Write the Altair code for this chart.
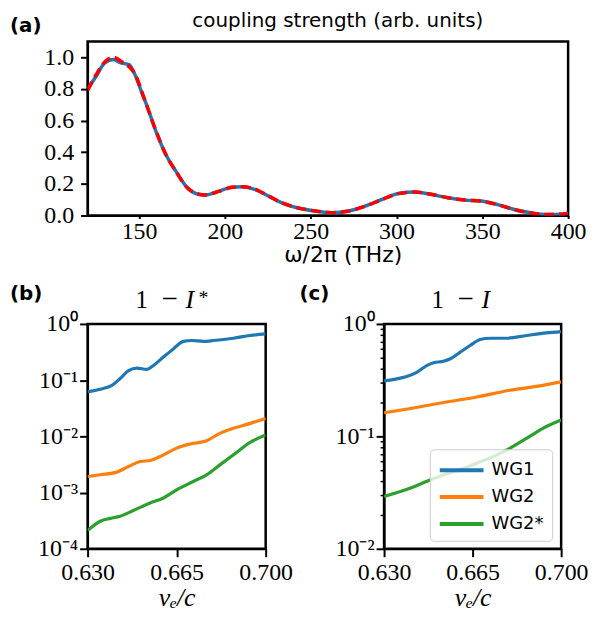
import altair as alt
import pandas as pd

# ---------------- data ----------------
freq = [120, 125, 130, 135, 139.4, 144.2, 148, 152, 154, 159.8, 165.6, 171.4, 178.1, 184.9,
        188.8, 196.5, 204.2, 210, 217.8, 225.5, 233.2, 241.9, 252.8, 262.4, 272.1, 281.7,
        291.4, 301.1, 310.7, 320.4, 330, 339.7, 349.4, 359, 368.7, 378.3, 388, 397.7, 400]
coup_blue = [0.80, 0.88, 0.964, 0.985, 0.964, 0.953, 0.88, 0.764, 0.71, 0.533, 0.385, 0.28,
             0.175, 0.133, 0.129, 0.154, 0.179, 0.181, 0.164, 0.122, 0.08, 0.049, 0.028,
             0.017, 0.028, 0.059, 0.101, 0.139, 0.148, 0.133, 0.112, 0.097, 0.091, 0.069,
             0.038, 0.017, 0.006, 0.010, 0.015]
coup_red = [0.79, 0.89, 0.97, 1.0, 0.975, 0.94, 0.885, 0.77, 0.71, 0.535, 0.385, 0.28,
            0.175, 0.135, 0.13, 0.152, 0.178, 0.182, 0.165, 0.123, 0.08, 0.05, 0.028,
            0.018, 0.028, 0.058, 0.1, 0.138, 0.148, 0.134, 0.112, 0.098, 0.09, 0.068,
            0.037, 0.016, 0.006, 0.010, 0.014]

series_names = ["WG1", "WG2", "WG2*"]
series_colors = ["#1f77b4", "#ff7f0e", "#2ca02c"]

# panel (b): 1 - I*
b_wg1_x = [0.630, 0.635, 0.6396, 0.6428, 0.6461, 0.6494, 0.6533, 0.6559, 0.6598, 0.6638,
           0.6677, 0.671, 0.6756, 0.6795, 0.6873, 0.6939, 0.700]
b_wg1_y = [0.062, 0.069, 0.081, 0.107, 0.148, 0.164, 0.155, 0.182, 0.257, 0.363, 0.490,
           0.507, 0.490, 0.507, 0.557, 0.622, 0.665]
b_wg2_x = [0.630, 0.635, 0.6415, 0.6461, 0.6507, 0.6546, 0.6598, 0.665, 0.6703, 0.6768,
           0.682, 0.6873, 0.6939, 0.700]
b_wg2_y = [0.00193, 0.00207, 0.00231, 0.00290, 0.00356, 0.00372, 0.00468, 0.00617,
           0.00731, 0.00838, 0.0113, 0.0139, 0.0170, 0.0209]
b_wg2s_x = [0.630, 0.635, 0.639, 0.6428, 0.648, 0.6546, 0.6598, 0.665, 0.6716, 0.6768,
            0.682, 0.6873, 0.6939, 0.700]
b_wg2s_y = [0.000211, 0.000309, 0.000347, 0.000380, 0.000479, 0.000652, 0.000800, 0.00112,
            0.00158, 0.00207, 0.00311, 0.00468, 0.00783, 0.01057]

# panel (c): 1 - I
c_wg1_x = [0.630, 0.634, 0.6392, 0.6431, 0.647, 0.6496, 0.6535, 0.6562, 0.6601, 0.664,
           0.668, 0.6719, 0.6784, 0.6863, 0.6942, 0.700]
c_wg1_y = [0.311, 0.321, 0.342, 0.373, 0.428, 0.452, 0.465, 0.490, 0.561, 0.643, 0.726,
           0.746, 0.746, 0.789, 0.832, 0.855]
c_wg2_x = [0.630, 0.6405, 0.6536, 0.6666, 0.6797, 0.6928, 0.700]
c_wg2_y = [0.162, 0.177, 0.200, 0.224, 0.257, 0.284, 0.305]
c_wg2s_x = [0.630, 0.6405, 0.647, 0.6536, 0.6601, 0.6666, 0.6732, 0.6797, 0.6863, 0.6928, 0.700]
c_wg2s_y = [0.0292, 0.0347, 0.0398, 0.0455, 0.0504, 0.0577, 0.0661, 0.0783, 0.0959, 0.1178, 0.1396]

x_ticks_ve = [0.630, 0.665, 0.700]
freq_ticks = [150, 200, 250, 300, 350, 400]
coup_ticks = [0.0, 0.2, 0.4, 0.6, 0.8, 1.0]
b_yticks = [0.0001, 0.001, 0.01, 0.1, 1]
c_yticks = [0.01, 0.02, 0.03, 0.04, 0.05, 0.06, 0.07, 0.08, 0.09,
            0.1, 0.2, 0.3, 0.4, 0.5, 0.6, 0.7, 0.8, 0.9, 1]


def long_df(parts):
    rows = []
    for name, xs, ys in parts:
        for i, (xv, yv) in enumerate(zip(xs, ys)):
            rows.append({"ve": xv, "val": yv, "series": name, "order": i})
    return pd.DataFrame(rows)


df_a = pd.DataFrame({"f": freq, "blue": coup_blue, "red": coup_red})
df_b = long_df([("WG1", b_wg1_x, b_wg1_y), ("WG2", b_wg2_x, b_wg2_y), ("WG2*", b_wg2s_x, b_wg2s_y)])
df_c = long_df([("WG1", c_wg1_x, c_wg1_y), ("WG2", c_wg2_x, c_wg2_y), ("WG2*", c_wg2s_x, c_wg2s_y)])

SERIF = "Liberation Serif"
SANS = "DejaVu Sans"
one = alt.Data(values=[{}])

SUP = ("'10' + (datum.value >= 0.999 ? '\u2070' : datum.value >= 0.099 ? '\u207b\u00b9' : "
       "datum.value >= 0.0099 ? '\u207b\u00b2' : datum.value >= 0.00099 ? '\u207b\u00b3' : '\u207b\u2074')")
MAJOR = "datum.value == 1 || datum.value == 0.1 || datum.value == 0.01"


def txt(text, dx, dy, size, font=SERIF, weight="normal", style="normal", align="left"):
    return alt.Chart(one).mark_text(text=text, font=font, fontWeight=weight, fontStyle=style,
                                    fontSize=size, align=align, baseline="alphabetic",
                                    color="black").encode(x=alt.value(dx), y=alt.value(dy))


def panel_label(text, dx, dy):
    return txt(text, dx, dy, 20, font=SANS, weight="bold")


def math_title(cx, star):
    layers = [
        txt("1", cx - 35, -16, 25, align="center"),
        txt("\u2212", cx - 7, -16, 29, align="center"),
        txt("I", cx + 9, -16, 26, style="italic"),
    ]
    if star:
        layers.append(txt("*", cx + 22, -20, 20))
    return layers


noflush = dict(labelFlush=False, labelOverlap=False)

# ---------------- panel (a) ----------------
WA, HA = 483, 175
xa = alt.X("f:Q", scale=alt.Scale(domain=[120, 400], nice=False, zero=False),
           axis=alt.Axis(values=freq_ticks, format="d", title="\u03c9/2\u03c0 (THz)",
                         titleFont=SANS, titleFontSize=22, titleFontWeight="normal",
                         titlePadding=1, titleX=WA / 2 + 15, tickSize=3, labelPadding=1,
                         **noflush))
ya_axis = alt.Axis(values=coup_ticks, format=".1f", title=None, tickSize=7, labelPadding=7,
                   **noflush)
ya_scale = alt.Scale(domain=[0, 1.1], nice=False)
base_a = alt.Chart(df_a)
blue_a = base_a.mark_line(color="#1f77b4", strokeWidth=3.5, interpolate="monotone", clip=True).encode(
    x=xa, y=alt.Y("blue:Q", scale=ya_scale, axis=ya_axis))
red_a = base_a.mark_line(color="red", strokeWidth=3.5, strokeDash=[10, 5], interpolate="monotone",
                         clip=True).encode(
    x=xa, y=alt.Y("red:Q", scale=ya_scale, axis=ya_axis))
panel_a = alt.layer(
    blue_a, red_a,
    panel_label("(a)", -78, -9),
    txt("coupling strength (arb. units)", WA / 2 + 10, -14, 20, font=SANS, align="center"),
).properties(width=WA, height=HA)

# ---------------- panels (b), (c) ----------------
WB, HB = 179, 226
WC = 178

xv = alt.X("ve:Q", scale=alt.Scale(domain=[0.63, 0.70], nice=False, zero=False),
           axis=alt.Axis(values=x_ticks_ve, format=".3f", title="v\u2091/c", titleFont=SERIF,
                         titleFontStyle="italic", titleFontSize=26, titleFontWeight="normal",
                         titlePadding=0, tickSize=8, labelPadding=4, **noflush))

color_b = alt.Color("series:N", scale=alt.Scale(domain=series_names, range=series_colors),
                    legend=None)
line_b = alt.Chart(df_b).mark_line(strokeWidth=3.2, interpolate="monotone", clip=True).encode(
    x=xv,
    y=alt.Y("val:Q", scale=alt.Scale(type="log", domain=[1e-4, 1], nice=False),
            axis=alt.Axis(values=b_yticks, labelExpr=SUP, title=None, tickSize=8,
                          labelPadding=2, **noflush)),
    color=color_b, order="order:Q")
panel_b = alt.layer(line_b, panel_label("(b)", -78, -24), *math_title(WB / 2, True)).properties(
    width=WB, height=HB)

color_c = alt.Color("series:N", scale=alt.Scale(domain=series_names, range=series_colors),
                    legend=alt.Legend(title=None, orient="none", legendX=46, legendY=126,
                                      fillColor="rgba(255,255,255,0.8)", strokeColor="#cccccc",
                                      cornerRadius=4, padding=8, symbolType="M-1,0H3",
                                      symbolSize=484, symbolStrokeWidth=4, labelFont=SANS,
                                      labelFontSize=18, labelColor="black", labelOffset=28,
                                      rowPadding=5))
line_c = alt.Chart(df_c).mark_line(strokeWidth=3.2, interpolate="monotone", clip=True).encode(
    x=xv,
    y=alt.Y("val:Q", scale=alt.Scale(type="log", domain=[1e-2, 1], nice=False),
            axis=alt.Axis(values=c_yticks, title=None, labelPadding=2, **noflush,
                          labelExpr="datum.value == 1 ? '10\u2070' : datum.value == 0.1 ? '10\u207b\u00b9' : datum.value == 0.01 ? '10\u207b\u00b2' : ''",
                          tickSize={"condition": {"test": MAJOR, "value": 8}, "value": 4},
                          tickWidth={"condition": {"test": MAJOR, "value": 2}, "value": 1.5})),
    color=color_c, order="order:Q")
panel_c = alt.layer(line_c, panel_label("(c)", -85, -24), *math_title(WC / 2, False)).properties(
    width=WC, height=HB)

bottom = alt.hconcat(panel_b, panel_c, spacing=119, bounds="flush").resolve_scale(color="independent")

chart = alt.vconcat(panel_a, bottom, spacing=109, bounds="flush").properties(
    padding={"left": 0, "top": 0, "right": 0, "bottom": -3}
).configure_axis(
    domainColor="black", domainWidth=2, tickColor="black", tickWidth=2,
    labelFont=SERIF, labelFontSize=24, labelColor="black", titleColor="black", grid=False
).configure_view(stroke="black", strokeWidth=2.5)

chart.save("out.html", embed_options={"renderer": "svg", "actions": False})
